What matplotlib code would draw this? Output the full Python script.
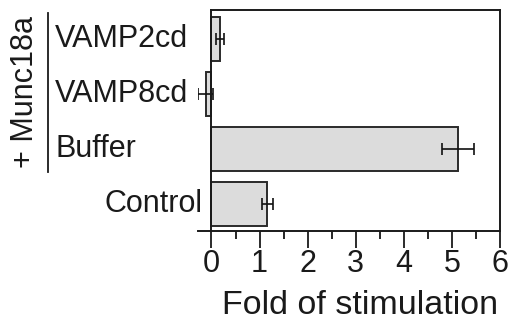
import numpy as np
import matplotlib.pyplot as plt
from matplotlib.transforms import blended_transform_factory

plt.rcParams['font.family'] = ['Liberation Sans', 'DejaVu Sans']

# data, bottom to top
conditions = ["Control", "Buffer", "VAMP8cd", "VAMP2cd"]
fold = [1.16, 5.12, -0.12, 0.18]
err = [0.11, 0.33, 0.16, 0.09]
xticks = [0, 1, 2, 3, 4, 5, 6]
group_label = "+ Munc18a"

W, H = 511, 326
fig = plt.figure(figsize=(W / 100, H / 100), dpi=100)
ax = fig.add_axes([198 / W, 1 - 231 / H, (500 - 198) / W, (231 - 10) / H])

pos = np.arange(len(conditions))
ax.barh(pos, fold, height=0.8, color="#dcdcdc", edgecolor="#2a2a2a", linewidth=1.4)
ax.errorbar(fold, pos, xerr=err, fmt="none", ecolor="#111111", elinewidth=1.2,
            capsize=4.3, capthick=1.2)

ax.set_xlim(-0.28, 6)
ax.set_ylim(-0.5, 3.53)
ax.spines['left'].set_position(('data', 0))
ax.spines['top'].set_bounds(0, 6)
for s in ax.spines.values():
    s.set_linewidth(1.4)
    s.set_color("#1a1a1a")

ax.set_xticks(xticks)
ax.set_xticks(np.arange(0.5, 6, 1), minor=True)
ax.tick_params(axis='x', which='major', direction='out', length=12, width=1.3,
               labelsize=22, pad=1, colors="#1a1a1a")
ax.tick_params(axis='x', which='minor', direction='out', length=6, width=1.2)
ax.set_yticks([])

# condition labels
tr = blended_transform_factory(fig.transFigure, ax.transData)
for i, name in enumerate(conditions):
    if name == "Control":
        ax.text(202 / W, pos[i], name, transform=tr, ha='right', va='center',
                fontsize=22, color="#1a1a1a")
    else:
        ax.text(55 / W, pos[i], name, transform=tr, ha='left', va='center',
                fontsize=22, color="#1a1a1a")

# group bracket
fig.add_artist(plt.Line2D([47.5 / W, 47.5 / W], [1 - 13 / H, 1 - 172 / H],
                          color="#1a1a1a", linewidth=1.3))
fig.text(25 / W, 1 - 91.5 / H, group_label, rotation=90, ha='center', va='center',
         fontsize=22, color="#1a1a1a")

fig.text(360 / W, 1 - 305 / H, "Fold of stimulation", ha='center', va='center',
         fontsize=24.5, color="#1a1a1a")

fig.savefig("out.png", dpi=100)
